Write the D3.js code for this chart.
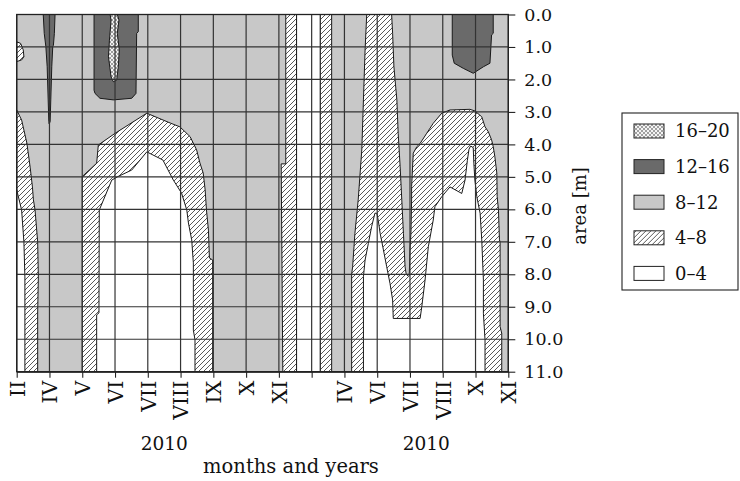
<!DOCTYPE html>
<html>
<head>
<meta charset="utf-8">
<script src="https://cdn.jsdelivr.net/npm/d3@7"></script>
<style>
  body { margin: 0; background: #fff; }
  svg { display: block; }
  text { font-family: "DejaVu Serif", "Liberation Serif", serif; fill: #111; }
</style>
</head>
<body>
<svg id="chart" width="740" height="481"></svg>
<script>
// Month tick labels along the time axis (index = position on the axis)
const monthTicks = ["II", "IV", "V", "VI", "VII", "VIII", "IX", "X", "XI", "", "IV", "VI", "VII", "VIII", "X", "XI"];
const yearLabels = [{ at: 4.5, text: "2010" }, { at: 12.5, text: "2010" }];
const depthTicks = [0, 1, 2, 3, 4, 5, 6, 7, 8, 9, 10, 11];

// Value classes, listed from the top of the legend down
const classKeys = ["16-20", "12-16", "8-12", "4-8", "0-4"];
const classLabels = ["16–20", "12–16", "8–12", "4–8", "0–4"];

// Iso-zones as [month position, area depth] outlines.
// Class 8–12 fills the whole field; the others are laid on top.
const zone4to8 = [
  // small bump on the left edge
  [[0, 0.84], [0.12, 0.89], [0.20, 1.09], [0.22, 1.30], [0.15, 1.40], [0, 1.45]],
  // left edge band
  [[0, 2.94], [0.15, 3.25], [0.31, 3.96], [0.41, 4.70], [0.48, 5.31], [0.51, 5.71], [0.56, 6.02],
   [0.64, 7.01], [0.66, 8.08], [0.64, 9.19], [0.64, 11], [0, 11]],
  // spring–summer dome
  [[2.00, 11], [2.00, 4.99], [2.44, 4.58], [2.49, 4.02], [3.00, 3.66], [3.97, 3.04], [4.68, 3.34],
   [4.98, 3.46], [5.29, 3.76], [5.49, 4.17], [5.59, 4.57], [5.69, 4.88], [5.75, 5.40], [5.79, 6.02],
   [5.85, 6.64], [5.88, 7.50], [5.98, 7.56], [5.98, 11]],
  // autumn strips
  [[8.21, 0], [8.54, 0], [8.54, 11], [8.12, 11], [8.07, 4.60], [8.21, 4.60]],
  [[9.26, 0], [9.61, 0], [9.61, 11], [9.26, 11]],
  // second season
  [[10.68, 0], [11.44, 0], [11.47, 0.58], [11.51, 1.61], [11.60, 2.63], [11.64, 3.66], [11.70, 4.69],
   [11.75, 5.71], [11.80, 6.74], [11.85, 7.77], [11.88, 7.97], [11.93, 8.05], [11.98, 7.97],
   [12.00, 7.25], [12.03, 6.73], [12.05, 5.71], [12.05, 5.30], [12.10, 4.27], [12.21, 4.07],
   [12.31, 3.97], [12.51, 3.66], [12.71, 3.35], [12.97, 3.04], [13.22, 2.94], [13.83, 2.92],
   [13.98, 2.97], [14.19, 3.15], [14.29, 3.46], [14.39, 3.61], [14.49, 3.86], [14.54, 4.07],
   [14.59, 4.38], [14.65, 4.89], [14.66, 5.61], [14.70, 6.02], [14.73, 6.94], [14.75, 7.00],
   [14.75, 9.61], [14.80, 9.82], [14.80, 11], [10.22, 11], [10.22, 8.0], [10.25, 7.77],
   [10.32, 6.74], [10.42, 5.71], [10.53, 4.17], [10.58, 2.63], [10.63, 1.09]]
];

const zone0to4 = [
  [[0, 5.40], [0.15, 6.02], [0.22, 7.01], [0.25, 8.08], [0.25, 11], [0, 11]],
  [[2.44, 11], [2.44, 9.25], [2.51, 9.19], [2.52, 6.02], [2.90, 5.10], [3.09, 4.99], [3.51, 4.79],
   [3.97, 4.23], [4.46, 4.48], [4.78, 5.10], [5.03, 5.50], [5.19, 6.02], [5.24, 6.42], [5.34, 6.94],
   [5.39, 7.65], [5.39, 9.72], [5.44, 10.02], [5.44, 11]],
  [[8.54, 0], [9.26, 0], [9.26, 11], [8.54, 11]],
  [[10.58, 11], [10.58, 8.07], [10.63, 7.56], [10.73, 7.05], [10.83, 6.53], [10.93, 6.12],
   [10.99, 6.12], [11.03, 6.33], [11.09, 6.74], [11.19, 7.25], [11.29, 7.77], [11.39, 8.28],
   [11.47, 8.79], [11.49, 9.36], [12.31, 9.36], [12.36, 9.00], [12.46, 8.18], [12.56, 7.15],
   [12.71, 6.33], [12.76, 5.92], [12.97, 5.61], [13.22, 5.31], [13.58, 5.51], [13.68, 5.10],
   [13.75, 4.50], [13.80, 4.15], [13.85, 4.05], [13.93, 4.10], [13.95, 4.60], [13.98, 5.10],
   [14.04, 5.61], [14.14, 6.12], [14.19, 6.94], [14.24, 8.18], [14.24, 9.20], [14.29, 10.02],
   [14.29, 11]]
];

const zone12to16 = [
  [[0.81, 0], [0.84, 0.58], [0.89, 0.99], [0.93, 1.61], [0.96, 2.63], [0.98, 3.30], [0.99, 3.37],
   [1.02, 3.30], [1.04, 2.63], [1.07, 1.61], [1.10, 0.99], [1.12, 0.95], [1.15, 0.58], [1.17, 0]],
  [[2.36, 0], [2.36, 2.33], [2.39, 2.43], [2.54, 2.58], [2.95, 2.63], [3.51, 2.58], [3.64, 2.43],
   [3.66, 0.58], [3.71, 0.53], [3.71, 0]],
  [[13.29, 0], [13.29, 1.25], [13.35, 1.50], [13.63, 1.66], [13.93, 1.81], [14.24, 1.61],
   [14.44, 1.50], [14.49, 0.63], [14.54, 0.58], [14.54, 0]]
];

const zone16to20 = [
  [[2.85, 0], [2.88, 0.17], [2.83, 0.79], [2.80, 1.30], [2.88, 1.92], [2.95, 2.07], [3.05, 2.02],
   [3.10, 1.61], [3.13, 1.09], [3.07, 0.58], [3.12, 0.17], [3.07, 0]]
];

const plot = { left: 16.7, right: 508.3, top: 14.5, bottom: 371.7 };

const svg = d3.select("#chart");
const x = d3.scaleLinear().domain([0, monthTicks.length - 1]).range([plot.left, plot.right]);
const y = d3.scaleLinear().domain([0, 11]).range([plot.top, plot.bottom]);

const fills = {
  "16-20": "url(#cross)",
  "12-16": "#6a6a6a",
  "8-12": "#c8c8c8",
  "4-8": "url(#hatch)",
  "0-4": "#ffffff"
};

// Patterns for the hatched classes
const defs = svg.append("defs");
const hatch = defs.append("pattern").attr("id", "hatch")
  .attr("patternUnits", "userSpaceOnUse").attr("width", 5).attr("height", 5);
hatch.append("rect").attr("width", 5).attr("height", 5).attr("fill", "#fff");
hatch.append("path").attr("d", "M-1,1 L1,-1 M0,5 L5,0 M4,6 L6,4")
  .attr("stroke", "#222").attr("stroke-width", 0.75);

const cross = defs.append("pattern").attr("id", "cross")
  .attr("patternUnits", "userSpaceOnUse").attr("width", 4).attr("height", 4);
cross.append("rect").attr("width", 4).attr("height", 4).attr("fill", "#f4f4f4");
cross.append("path").attr("d", "M0,0 L4,4 M4,0 L0,4")
  .attr("stroke", "#666").attr("stroke-width", 0.6);

defs.append("clipPath").attr("id", "plotClip").append("rect")
  .attr("x", plot.left).attr("y", plot.top)
  .attr("width", plot.right - plot.left).attr("height", plot.bottom - plot.top);

const line = d3.line().x(d => x(d[0])).y(d => y(d[1])).curve(d3.curveLinearClosed);

const field = svg.append("g").attr("clip-path", "url(#plotClip)");

// background class
field.append("rect")
  .attr("x", x(0)).attr("y", y(0))
  .attr("width", x(monthTicks.length - 1) - x(0)).attr("height", y(11) - y(0))
  .attr("fill", fills["8-12"]);

const layers = [
  { key: "4-8", polys: zone4to8 },
  { key: "0-4", polys: zone0to4 },
  { key: "12-16", polys: zone12to16 },
  { key: "16-20", polys: zone16to20 }
];
layers.forEach(layer => {
  field.append("g").selectAll("path").data(layer.polys).join("path")
    .attr("d", line)
    .attr("fill", fills[layer.key])
    .attr("stroke", "#1a1a1a")
    .attr("stroke-width", 1)
    .attr("stroke-linejoin", "round");
});

// grid on top of the field
const grid = svg.append("g").attr("stroke", "#333").attr("stroke-width", 1.2);
grid.selectAll("line.v").data(d3.range(monthTicks.length)).join("line")
  .attr("class", "v")
  .attr("x1", d => x(d)).attr("x2", d => x(d))
  .attr("y1", y(0)).attr("y2", y(11));
grid.selectAll("line.h").data(depthTicks).join("line")
  .attr("class", "h")
  .attr("x1", x(0)).attr("x2", x(monthTicks.length - 1))
  .attr("y1", d => y(d)).attr("y2", d => y(d));

svg.append("rect")
  .attr("x", x(0)).attr("y", y(0))
  .attr("width", x(monthTicks.length - 1) - x(0)).attr("height", y(11) - y(0))
  .attr("fill", "none").attr("stroke", "#222").attr("stroke-width", 1.3);

// bottom axis with rotated month numerals
const xAxis = svg.append("g")
  .attr("transform", `translate(0,${plot.bottom})`)
  .call(d3.axisBottom(x).tickValues(d3.range(monthTicks.length))
    .tickFormat(i => monthTicks[i]).tickSize(6).tickSizeOuter(0));
xAxis.select(".domain").attr("stroke", "#222").attr("stroke-width", 1.3);
xAxis.selectAll(".tick line").attr("stroke", "#222").attr("stroke-width", 1.1);
xAxis.selectAll(".tick text")
  .attr("transform", "rotate(-90)")
  .attr("x", -9).attr("y", 0).attr("dy", "0.36em")
  .attr("text-anchor", "end")
  .style("font-size", "20.5px").style("fill", "#111");

svg.append("g").selectAll("text").data(yearLabels).join("text")
  .attr("x", d => x(d.at)).attr("y", 450)
  .attr("text-anchor", "middle")
  .style("font-size", "18.5px")
  .text(d => d.text);

svg.append("text")
  .attr("x", 291).attr("y", 473)
  .attr("text-anchor", "middle")
  .style("font-size", "19.5px")
  .text("months and years");

// right axis for area depth
const yAxis = svg.append("g")
  .attr("transform", `translate(${plot.right},0)`)
  .call(d3.axisRight(y).tickValues(depthTicks).tickFormat(d3.format(".1f"))
    .tickSize(7).tickPadding(9).tickSizeOuter(0));
yAxis.select(".domain").remove();
yAxis.selectAll(".tick line").attr("stroke", "#222").attr("stroke-width", 1.1);
yAxis.selectAll(".tick text").style("font-size", "17.5px").style("fill", "#111");

svg.append("text")
  .attr("transform", `translate(586,206) rotate(-90)`)
  .attr("text-anchor", "middle")
  .style("font-size", "18px")
  .text("area [m]");

// legend
const legend = svg.append("g");
legend.append("rect")
  .attr("x", 622).attr("y", 113).attr("width", 116).attr("height", 177)
  .attr("fill", "#fff").attr("stroke", "#222").attr("stroke-width", 1.1);
const items = legend.selectAll("g.item").data(classKeys).join("g")
  .attr("class", "item")
  .attr("transform", (d, i) => `translate(634,${131 + i * 35.6})`);
items.append("rect")
  .attr("x", 0).attr("y", -7).attr("width", 30).attr("height", 14)
  .attr("fill", d => fills[d]).attr("stroke", "#222").attr("stroke-width", 1);
items.append("text")
  .attr("x", 41).attr("y", 0).attr("dy", "0.35em")
  .style("font-size", "18px")
  .text((d, i) => classLabels[i]);
</script>
</body>
</html>
